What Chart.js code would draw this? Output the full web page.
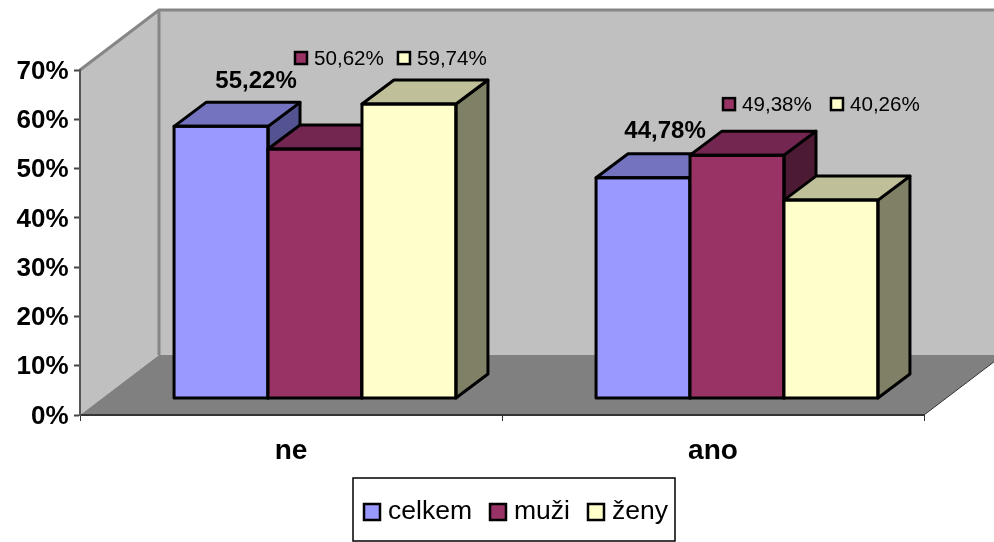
<!DOCTYPE html>
<html>
<head>
<meta charset="utf-8">
<title>graf</title>
<style>
  html, body { margin: 0; padding: 0; background: #fff; }
  canvas { display: block; }
</style>
<script src="https://cdn.jsdelivr.net/npm/chart.js@4"></script>
</head>
<body>
<canvas id="my_chart" width="994" height="542"></canvas>
<script>
const categories = ["ne", "ano"];
const series_names = ["celkem", "muži", "ženy"];
const celkem_values = [55.22, 44.78];
const muzi_values = [50.62, 49.38];
const zeny_values = [59.74, 40.26];
const y_max = 70;
const y_step = 10;

const font_name = '"Liberation Sans", Arial, sans-serif';
const front_colors = ["#9999ff", "#993366", "#ffffcc"];
const top_colors = ["#7373bf", "#732650", "#bfbf99"];
const side_colors = ["#535391", "#4d1a33", "#808066"];

// the bars stand a bit behind the axis plane, and have their own depth
const gap_x = 24, gap_y = -16.5;
const bar_depth_x = 32, bar_depth_y = -24;
const wall_depth_x = 79, wall_depth_y = -60;
const legend_stretch = 1.04;
const small_stretch = 1.03;

// data label places, relative to top middle of the bar [dataset][category]
const label_offsets = [
  [[35, -46], [22, -47]],
  [[-21, -91], [-15, -51]],
  [[-12, -46], [-1, -96]],
];

function stretchedText(ctx, text, x, y, font, align, stretch) {
  ctx.save();
  ctx.font = font;
  ctx.fillStyle = "#000";
  ctx.textBaseline = "middle";
  ctx.textAlign = align;
  ctx.translate(x, y);
  ctx.scale(stretch, 1);
  ctx.fillText(text, 0, 0);
  ctx.restore();
}

function textWidth(ctx, text, font) {
  ctx.save();
  ctx.font = font;
  const w = ctx.measureText(text).width * legend_stretch;
  ctx.restore();
  return w;
}

function polygon(ctx, points, fill, stroke, line_width) {
  ctx.beginPath();
  points.forEach((p, i) => (i ? ctx.lineTo(p[0], p[1]) : ctx.moveTo(p[0], p[1])));
  ctx.closePath();
  if (fill) {
    ctx.fillStyle = fill;
    ctx.fill();
  }
  if (stroke) {
    ctx.strokeStyle = stroke;
    ctx.lineWidth = line_width;
    ctx.stroke();
  }
}

function swatch(ctx, x, y, size, color) {
  ctx.fillStyle = color;
  ctx.fillRect(x, y, size, size);
  ctx.strokeStyle = "#000";
  ctx.lineWidth = 2.5;
  ctx.strokeRect(x, y, size, size);
}

const walls_plugin = {
  id: "walls",
  afterLayout(chart) {
    // tick labels of the reference sit a little lower than chart.js puts them
    const y_scale = chart.scales.y;
    const draw_labels = y_scale.drawLabels;
    y_scale.drawLabels = function (area) {
      chart.ctx.save();
      chart.ctx.translate(0, 1.5);
      draw_labels.call(y_scale, area);
      chart.ctx.restore();
    };
  },
  beforeDraw(chart) {
    const ctx = chart.ctx;
    const a = chart.chartArea;
    const dx = wall_depth_x, dy = wall_depth_y;
    const w = chart.width;
    ctx.save();
    // left wall
    polygon(ctx, [[a.left, a.top], [a.left + dx, a.top + dy], [a.left + dx, a.bottom + dy], [a.left, a.bottom]], "#c0c0c0");
    // back wall
    polygon(ctx, [[a.left + dx, a.top + dy], [w, a.top + dy], [w, a.bottom + dy], [a.left + dx, a.bottom + dy]], "#c0c0c0");
    // floor
    const floor_right = a.bottom + dy * (w - a.right) / dx;
    polygon(ctx, [[a.left, a.bottom], [a.right, a.bottom], [w, floor_right], [w, a.bottom + dy], [a.left + dx, a.bottom + dy]], "#808080");
    // edges
    ctx.strokeStyle = "#868686";
    ctx.lineWidth = 3;
    ctx.beginPath();
    ctx.moveTo(a.left, a.top);
    ctx.lineTo(a.left + dx, a.top + dy);
    ctx.lineTo(w, a.top + dy);
    ctx.moveTo(a.left + dx, a.top + dy);
    ctx.lineTo(a.left + dx, a.bottom + dy);
    ctx.stroke();
    ctx.strokeStyle = "#333";
    ctx.lineWidth = 1;
    ctx.beginPath();
    ctx.moveTo(a.right, a.bottom);
    ctx.lineTo(w, floor_right);
    ctx.stroke();
    ctx.restore();
  },
};

const bars_3d_plugin = {
  id: "bars3d",
  // chart.js paints the last dataset first, here the left bars must go first
  beforeDatasetDraw() {
    return false;
  },
  afterDatasetsDraw(chart) {
    const ctx = chart.ctx;
    chart.data.datasets.forEach((ds, i) => {
      const meta = chart.getDatasetMeta(i);
      ctx.save();
      ctx.translate(gap_x, gap_y);
      meta.controller.draw();
      ctx.lineJoin = "round";
      meta.data.forEach((bar) => {
        const l = bar.x - bar.width / 2;
        const r = bar.x + bar.width / 2;
        const t = bar.y;
        const b = bar.base;
        const dx = bar_depth_x, dy = bar_depth_y;
        polygon(ctx, [[r, t], [r + dx, t + dy], [r + dx, b + dy], [r, b]], side_colors[i], "#000", 3);
        polygon(ctx, [[l, t], [l + dx, t + dy], [r + dx, t + dy], [r, t]], top_colors[i], "#000", 3);
        polygon(ctx, [[l, t], [r, t], [r, b], [l, b]], null, "#000", 3);
      });
      ctx.restore();
    });
    const big_font = "bold 24px " + font_name;
    const small_font = "20px " + font_name;
    chart.data.datasets.forEach((ds, i) => {
      chart.getDatasetMeta(i).data.forEach((bar, j) => {
        const text = ds.data[j].toFixed(2).replace(".", ",") + "%";
        const x = bar.x + gap_x + label_offsets[i][j][0];
        const y = bar.y + gap_y + label_offsets[i][j][1];
        if (i === 0) {
          stretchedText(ctx, text, x, y + 1, big_font, "center", 1);
        } else {
          swatch(ctx, x + 1, y - 6, 12, front_colors[i]);
          stretchedText(ctx, text, x + 20, y + 1.5, small_font, "left", small_stretch);
        }
      });
    });
  },
};

const box_legend_plugin = {
  id: "boxLegend",
  afterDraw(chart) {
    const ctx = chart.ctx;
    const font = "25.5px " + font_name;
    ctx.save();
    ctx.strokeStyle = "#000";
    ctx.lineWidth = 1.5;
    ctx.strokeRect(353, 478, 322, 63);
    let x = 364;
    chart.data.datasets.forEach((ds, i) => {
      swatch(ctx, x, 504, 16, front_colors[i]);
      stretchedText(ctx, ds.label, x + 24, 512, font, "left", legend_stretch);
      x += 24 + textWidth(ctx, ds.label, font) + 18;
    });
    ctx.restore();
  },
};

const series_list = [celkem_values, muzi_values, zeny_values];

new Chart(document.getElementById("my_chart"), {
  type: "bar",
  data: {
    labels: categories,
    datasets: series_list.map((values, i) => ({
      label: series_names[i],
      data: values,
      backgroundColor: front_colors[i],
      borderWidth: 0,
      categoryPercentage: 0.668,
      barPercentage: 1,
      clip: false,
    })),
  },
  options: {
    responsive: false,
    animation: false,
    layout: { padding: { top: 70, right: 70, left: 0, bottom: 0 } },
    plugins: { legend: { display: false }, tooltip: { enabled: false } },
    scales: {
      x: {
        afterFit(scale) { scale.height = 127; },
        grid: { drawOnChartArea: false, tickLength: 6, tickColor: "#333", tickWidth: 1 },
        border: { color: "#333", width: 2 },
        ticks: { color: "#000", padding: 13, maxRotation: 0, font: { family: font_name, size: 28, weight: "bold" } },
      },
      y: {
        min: 0,
        max: y_max,
        afterFit(scale) { scale.width = 80; },
        grid: { drawOnChartArea: false, tickLength: 6, tickColor: "#444", tickWidth: 2 },
        border: { color: "#555", width: 2 },
        ticks: {
          stepSize: y_step,
          color: "#000",
          padding: 5.5,
          font: { family: font_name, size: 26, weight: "bold" },
          callback: (v) => v + "%",
        },
      },
    },
  },
  plugins: [walls_plugin, bars_3d_plugin, box_legend_plugin],
});
</script>
</body>
</html>
